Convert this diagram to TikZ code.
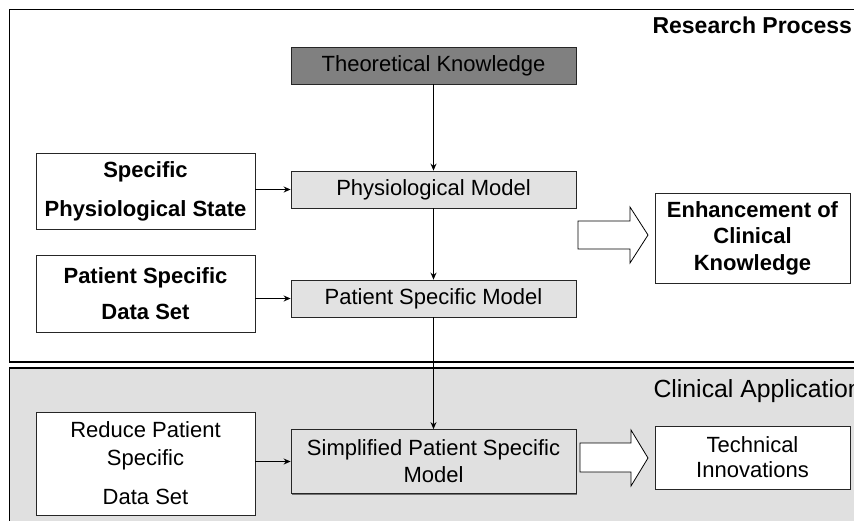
\documentclass[tikz,border=0pt]{standalone}
\usepackage{fontspec}
\setmainfont{Liberation Sans}
\usetikzlibrary{arrows.meta,shadows}
\definecolor{theo}{RGB}{128,128,128}
\definecolor{lightbox}{RGB}{226,226,226}
\definecolor{clinbg}{RGB}{224,224,224}
\tikzset{
  box/.style={draw=black!85, line width=0.8pt, align=center, inner sep=0pt,
    font=\fontsize{22}{26.5}\selectfont,
    drop shadow={shadow xshift=1.4pt, shadow yshift=-1.4pt, fill=black!55, opacity=1}},
  whitebox/.style={box, fill=white},
  graybox/.style={box, fill=lightbox},
  conn/.style={line width=1.4pt, -{Stealth[length=7pt,width=6pt]}},
  blockarrow/.style={draw=black, line width=0.8pt, fill=white},
  region/.style={draw=black, line width=1.4pt},
}
\begin{document}
\begin{tikzpicture}[x=1pt,y=-1pt]
\useasboundingbox (0,0) rectangle (854,520);
\clip (0,0) rectangle (854,520);
% regions
\draw[region, fill=white] (9.5,9.5) rectangle (880,362);
\draw[region, fill=clinbg] (9.5,368) rectangle (880,540);
\node[anchor=base west, font=\fontsize{23}{27}\selectfont\bfseries] (rp) at (649,33) {Research Process};
\node[anchor=base west, font=\fontsize{24.8}{29}\selectfont] (ca) at (650,397) {Clinical Application};
% middle column
\node[box, fill=theo, minimum width=285, minimum height=37] (theo) at (433.5,65.5) {Theoretical Knowledge};
\node[graybox, minimum width=285, minimum height=37] (phys) at (433.5,189.5) {Physiological Model};
\node[graybox, minimum width=285, minimum height=37] (psm) at (433.5,298.5) {Patient Specific Model};
\node[box, fill=clinbg, minimum width=285, minimum height=64, font=\fontsize{22}{27}\selectfont] (spsm) at (433.5,461.5) {Simplified Patient Specific\\Model};
% left column
\node[whitebox, minimum width=219, minimum height=76, font=\fontsize{22}{26.5}\selectfont\bfseries] (sps) at (145.5,191) {Specific\\[12.5pt]Physiological State};
\node[whitebox, minimum width=219, minimum height=77, font=\fontsize{22}{26.5}\selectfont\bfseries] (psds) at (145.5,293.5) {Patient Specific\\[9.5pt]Data Set};
\node[whitebox, minimum width=219, minimum height=103] (rpsds) at (145.5,463.5) {Reduce Patient\\[1.5pt]Specific\\[12.5pt]Data Set};
% right column
\node[whitebox, minimum width=195, minimum height=90, font=\fontsize{22}{26.5}\selectfont\bfseries] (ecn) at (752.5,238) {Enhancement of\\Clinical\\Knowledge};
\node[whitebox, minimum width=195, minimum height=63, font=\fontsize{22}{25}\selectfont] (ti) at (752.5,457.5) {Technical\\Innovations};
% connectors
\draw[conn] (theo.south) -- (phys.north);
\draw[conn] (phys.south) -- (psm.north);
\draw[conn] (psm.south) -- (spsm.north);
\draw[conn] (sps.east |- phys.west) -- (phys.west);
\draw[conn] (psds.east |- psm.west) -- (psm.west);
\draw[conn] (rpsds.east |- spsm.west) -- (spsm.west);
% block arrows
\draw[blockarrow] (578,221) -- (630,221) -- (630,207) -- (648,235) -- (630,263) -- (630,249) -- (578,249) -- cycle;
\draw[blockarrow] (580,443) -- (631,443) -- (631,430) -- (648,458) -- (631,486) -- (631,472) -- (580,472) -- cycle;
\end{tikzpicture}
\end{document}
